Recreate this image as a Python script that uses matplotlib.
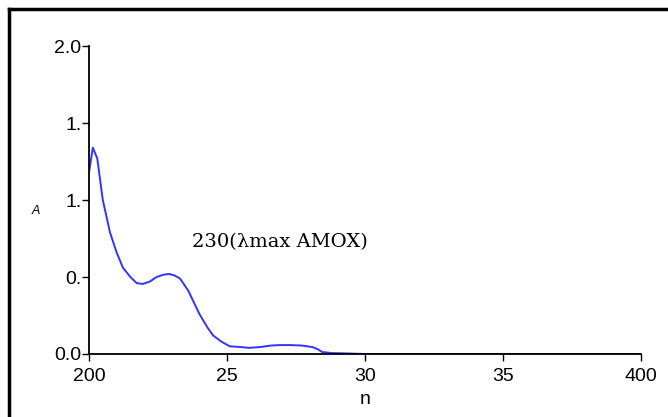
import matplotlib.pyplot as plt
from matplotlib.lines import Line2D

# spectrum
wavelength = [200, 201.4, 203, 205, 207.6, 210, 212.3, 215, 217.3, 219.5, 222, 224.5,
              227, 229, 231, 233, 236, 240, 243, 245, 248, 251, 255, 258, 262,
              266, 269, 273, 277, 281, 283, 284.5, 288, 293, 300, 320, 350, 380, 400]
absorb = [1.18, 1.34, 1.27, 1.0, 0.79, 0.66, 0.56, 0.50, 0.46, 0.455, 0.47, 0.50,
          0.515, 0.52, 0.51, 0.49, 0.41, 0.26, 0.17, 0.12, 0.08, 0.05, 0.045, 0.04, 0.045,
          0.055, 0.058, 0.058, 0.055, 0.045, 0.03, 0.013, 0.006, 0.004, 0.0, 0.0, 0.0, 0.0, 0.0]

xticks = [200, 250, 300, 350, 400]
xtick_labels = ["200", "25", "30", "35", "400"]
yticks = [0.0, 0.5, 1.0, 1.5, 2.0]
ytick_labels = ["0.0", "0.", "1.", "1.", "2.0"]

fig = plt.figure(figsize=(6.68, 4.17), dpi=100)
ax = fig.add_axes([89 / 668, 1 - 354 / 417, (641 - 89) / 668, (354 - 46) / 417])

ax.plot(wavelength, absorb, color="#3333ff", lw=1.4)
ax.set_xlim(200, 400)
ax.set_ylim(0, 2.0)

ax.set_xticks(xticks)
ax.set_xticklabels(xtick_labels, family="Liberation Sans", fontsize=14)
ax.set_yticks(yticks)
ax.set_yticklabels(ytick_labels, family="Liberation Sans", fontsize=14)
ax.tick_params(length=5, width=1, color="black")
ax.tick_params(axis="x", pad=5)
ax.tick_params(axis="y", pad=0.5)

for s in ["top", "right"]:
    ax.spines[s].set_visible(False)
ax.spines["left"].set_linewidth(1.3)
ax.spines["bottom"].set_linewidth(1.3)

ax.text(237.5, 0.725, "230(\u03bbmax AMOX)", family="DejaVu Serif", fontsize=14,
        va="center", ha="left")

# truncated axis titles
fig.text(36 / 668, 1 - 211 / 417, "A", fontsize=9, family="Liberation Sans",
         ha="center", va="center", style="italic")
fig.text(365 / 668, 1 - 391 / 417, "n", fontsize=14, family="Liberation Sans",
         ha="center", va="top")

# outer frame (left and top only visible)
fig.add_artist(Line2D([9 / 668, 9 / 668], [0, 1 - 9 / 417], transform=fig.transFigure,
                      color="black", lw=2.5))
fig.add_artist(Line2D([9 / 668, 1], [1 - 9 / 417, 1 - 9 / 417], transform=fig.transFigure,
                      color="black", lw=2.5))

fig.savefig("out.png", dpi=100)
